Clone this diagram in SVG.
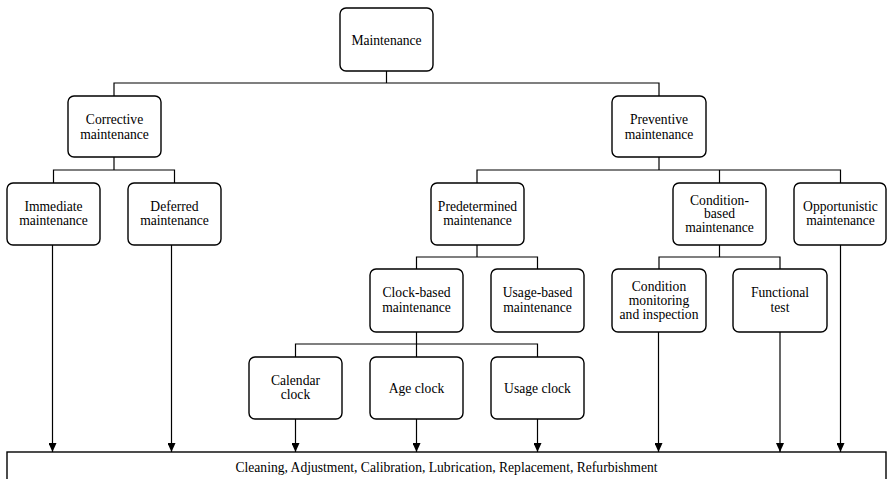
<svg xmlns="http://www.w3.org/2000/svg" width="887" height="479" viewBox="0 0 887 479">
<defs>
<marker id="ah" markerWidth="9" markerHeight="8" refX="9" refY="4" orient="auto" markerUnits="userSpaceOnUse" viewBox="0 0 9 8">
<path d="M0,0 L9,4 L0,8 Z" fill="#000"/>
</marker>
</defs>
<style>
rect.n{fill:#fff;stroke:#000;stroke-width:1.4}
text{font-size:13.6px;fill:#000;text-anchor:middle}
.c line,.c polyline{stroke:#000;stroke-width:1.2;fill:none}
.a{marker-end:url(#ah)}
</style>
<rect width="887" height="479" fill="#fff"/>
<g class="c" id="connectors">
<polyline points="386.5,71 386.5,83"/>
<polyline points="114,96 114,83 659,83 659,96"/>
<polyline points="114,157 114,170"/>
<polyline points="53.5,183 53.5,170 174.5,170 174.5,183"/>
<polyline points="659,157 659,170"/>
<polyline points="477,183 477,170 840.5,170 840.5,183"/>
<polyline points="719.5,170 719.5,183"/>
<polyline points="477,245 477,257"/>
<polyline points="416.5,269 416.5,257 537.5,257 537.5,269"/>
<polyline points="416.5,332 416.5,344"/>
<polyline points="295.5,357 295.5,344 537.5,344 537.5,357"/>
<polyline points="416.5,344 416.5,357"/>
<polyline points="719.5,245 719.5,257"/>
<polyline points="659,269 659,257 780,257 780,269"/>
<line class="a" x1="52.5" y1="245" x2="52.5" y2="452"/>
<line class="a" x1="171.5" y1="245" x2="171.5" y2="452"/>
<line class="a" x1="295.5" y1="419" x2="295.5" y2="452"/>
<line class="a" x1="416.5" y1="419" x2="416.5" y2="452"/>
<line class="a" x1="537.5" y1="419" x2="537.5" y2="452"/>
<line class="a" x1="658.5" y1="332" x2="658.5" y2="452"/>
<line class="a" x1="780" y1="332" x2="780" y2="452"/>
<line class="a" x1="840.5" y1="245" x2="840.5" y2="452"/>
</g>
<g font-family="'Liberation Serif', 'Times New Roman', 'DejaVu Serif', serif">
<g id="maintenance"><rect class="n" x="340" y="8" width="93" height="63" rx="6"/><text x="386.5" y="44.5">Maintenance</text></g>
<g id="corrective"><rect class="n" x="68" y="96" width="93" height="61" rx="6"/><text x="114.5" y="123.5">Corrective</text><text x="114.5" y="138.5">maintenance</text></g>
<g id="preventive"><rect class="n" x="612" y="96" width="94" height="61" rx="6"/><text x="659" y="123.5">Preventive</text><text x="659" y="138.5">maintenance</text></g>
<g id="immediate"><rect class="n" x="7" y="183" width="93" height="62" rx="6"/><text x="53.5" y="210.5">Immediate</text><text x="53.5" y="225">maintenance</text></g>
<g id="deferred"><rect class="n" x="128" y="183" width="93" height="62" rx="6"/><text x="174.5" y="210.5">Deferred</text><text x="174.5" y="225">maintenance</text></g>
<g id="predetermined"><rect class="n" x="431" y="183" width="93" height="62" rx="6"/><text x="477.5" y="210.5">Predetermined</text><text x="477.5" y="225">maintenance</text></g>
<g id="condition-based"><rect class="n" x="673" y="183" width="93" height="62" rx="6"/><text x="719.5" y="204.5">Condition-</text><text x="719.5" y="218">based</text><text x="719.5" y="232">maintenance</text></g>
<g id="opportunistic"><rect class="n" x="794" y="183" width="92" height="62" rx="6"/><text x="840.5" y="210.5">Opportunistic</text><text x="840.5" y="225">maintenance</text></g>
<g id="clock-based"><rect class="n" x="370" y="269" width="93" height="63" rx="6"/><text x="416.5" y="297">Clock-based</text><text x="416.5" y="311.5">maintenance</text></g>
<g id="usage-based"><rect class="n" x="491" y="269" width="93" height="63" rx="6"/><text x="537.5" y="297">Usage-based</text><text x="537.5" y="311.5">maintenance</text></g>
<g id="condition-monitoring"><rect class="n" x="612" y="269" width="94" height="63" rx="6"/><text x="659" y="290.5">Condition</text><text x="659" y="304.5">monitoring</text><text x="659" y="318.5">and inspection</text></g>
<g id="functional-test"><rect class="n" x="733" y="269" width="94" height="63" rx="6"/><text x="780" y="297">Functional</text><text x="780" y="311.5">test</text></g>
<g id="calendar-clock"><rect class="n" x="249" y="357" width="93" height="62" rx="6"/><text x="295.5" y="384.5">Calendar</text><text x="295.5" y="399">clock</text></g>
<g id="age-clock"><rect class="n" x="370" y="357" width="93" height="62" rx="6"/><text x="416.5" y="392.5">Age clock</text></g>
<g id="usage-clock"><rect class="n" x="491" y="357" width="93" height="62" rx="6"/><text x="537.5" y="392.5">Usage clock</text></g>
<g id="actions"><rect class="n" x="7" y="452" width="879" height="40" rx="0"/><text x="446.5" y="472">Cleaning, Adjustment, Calibration, Lubrication, Replacement, Refurbishment</text></g>
</g>
</svg>
